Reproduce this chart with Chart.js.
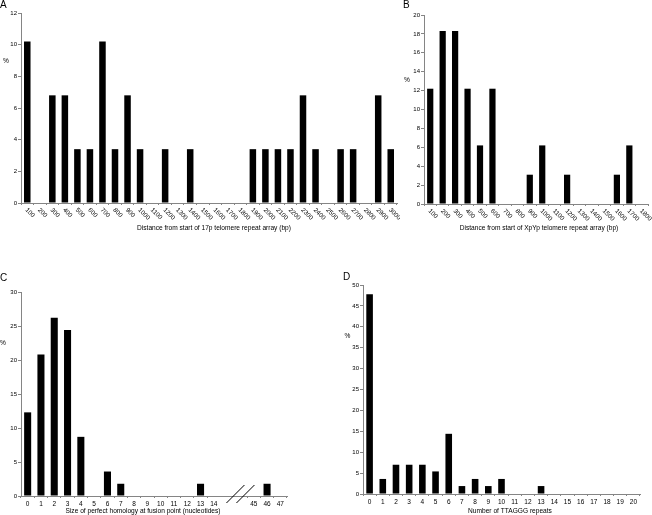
<!DOCTYPE html>
<html>
<head>
<meta charset="utf-8">
<script src="https://cdn.jsdelivr.net/npm/chart.js@4"></script>
<style>
  html, body { margin: 0; padding: 0; background: #fff; }
  #wrap { position: relative; width: 652px; height: 515px; overflow: hidden; background: #fff; }
  canvas { position: absolute; }
</style>
</head>
<body>
<div id="wrap">
  <canvas id="chart-a" width="400" height="240" style="left:0;top:0"></canvas>
  <canvas id="chart-b" width="252" height="240" style="left:400px;top:0"></canvas>
  <canvas id="chart-c" width="330" height="255" style="left:0;top:260px"></canvas>
  <canvas id="chart-d" width="322" height="255" style="left:330px;top:260px"></canvas>
</div>
<script>
// A - distance from start of 17p array
const catsA = ["100", "200", "300", "400", "500", "600", "700", "800", "900", "1000",
  "1100", "1200", "1300", "1400", "1500", "1600", "1700", "1800", "1900", "2000",
  "2100", "2200", "2300", "2400", "2500", "2600", "2700", "2800", "2900", "3000"];
const valsA = [10.2, 0, 6.8, 6.8, 3.4, 3.4, 10.2, 3.4, 6.8, 3.4,
  0, 3.4, 0, 3.4, 0, 0, 0, 0, 3.4, 3.4,
  3.4, 3.4, 6.8, 3.4, 0, 3.4, 3.4, 0, 6.8, 3.4];

// B - distance from start of XpYp array
const catsB = ["100", "200", "300", "400", "500", "600", "700", "800", "900",
  "1000", "1100", "1200", "1300", "1400", "1500", "1600", "1700", "1800"];
const valsB = [12.2, 18.3, 18.3, 12.2, 6.2, 12.2, 0, 0, 3.1,
  6.2, 0, 3.1, 0, 0, 0, 3.1, 6.2, 0];

// C - perfect homology size (two empty slots stand for the axis break)
const catsC = ["0", "1", "2", "3", "4", "5", "6", "7", "8", "9", "10", "11", "12", "13", "14",
  "", "", "45", "46", "47"];
const valsC = [12.3, 20.8, 26.2, 24.4, 8.7, 0, 3.6, 1.8, 0, 0, 0, 0, 0, 1.8, 0,
  null, null, 0, 1.8, 0];

// D - number of TTAGGG repeats
const catsD = ["0", "1", "2", "3", "4", "5", "6", "7", "8", "9", "10",
  "11", "12", "13", "14", "15", "16", "17", "18", "19", "20"];
const valsD = [47.8, 3.6, 7.0, 7.0, 7.0, 5.4, 14.4, 1.9, 3.6, 1.9, 3.6,
  0, 0, 1.9, 0, 0, 0, 0, 0, 0, 0];

const yMax = { a: 12, b: 20, c: 30, d: 50 };
const yStep = { a: 2, b: 2, c: 5, d: 5 };

const AXIS = "#858585";
const FONT = '"Liberation Sans", Arial, sans-serif';

Chart.defaults.font.family = FONT;
Chart.defaults.font.size = 6;
Chart.defaults.color = "#000";

// letters, "%", x titles, slanted tick labels and the axis break
const panelText = {
  id: "panelText",
  afterDraw(chart, args, o) {
    const ctx = chart.ctx;
    const xs = chart.scales.x;
    ctx.save();
    ctx.fillStyle = "#000";

    ctx.font = `10px ${FONT}`;
    ctx.textAlign = "left";
    ctx.textBaseline = "alphabetic";
    ctx.fillText(o.letter, o.letterX, o.letterY);

    ctx.font = `6.6px ${FONT}`;
    ctx.textAlign = "center";
    ctx.textBaseline = "middle";
    ctx.fillText("%", o.pctX, o.pctY);
    ctx.fillText(o.title, o.titleX, o.titleY);

    if (o.slant) {
      ctx.font = `6.3px ${FONT}`;
      ctx.textAlign = "left";
      chart.data.labels.forEach((lab, i) => {
        const px = xs.getPixelForValue(i);
        ctx.save();
        ctx.translate(px - 1, xs.top + 6);
        ctx.rotate(Math.PI / 4);
        ctx.fillText(lab, 0, 0);
        ctx.restore();
      });
    }

    if (o.breakIndex != null) {
      const c = xs.getPixelForValue(o.breakIndex);
      const ay = xs.top;
      ctx.strokeStyle = "#000";
      ctx.lineWidth = 1;
      [-5, 5].forEach((dx) => {
        ctx.beginPath();
        ctx.moveTo(c + dx - 9, ay + 7);
        ctx.lineTo(c + dx + 9, ay - 11);
        ctx.stroke();
      });
    }
    ctx.restore();
  },
};

function buildChart(canvasId, labels, values, s) {
  return new Chart(document.getElementById(canvasId), {
    type: "bar",
    data: {
      labels,
      datasets: [
        {
          data: values,
          backgroundColor: "#000",
          borderWidth: 0,
          barPercentage: s.bar,
          categoryPercentage: 1,
        },
      ],
    },
    options: {
      responsive: false,
      animation: false,
      events: [],
      layout: { padding: s.pad },
      plugins: {
        legend: { display: false },
        tooltip: { enabled: false },
        panelText: s.text,
      },
      scales: {
        x: {
          grid: {
            drawOnChartArea: false,
            tickLength: 2,
            color: (ctx) => (s.hideTicks && s.hideTicks.includes(ctx.index) ? "rgba(0,0,0,0)" : AXIS),
          },
          border: { color: AXIS },
          ticks: { display: !s.text.slant, autoSkip: false, maxRotation: 0, padding: 2, font: { size: 6.5 } },
          afterFit: (sc) => { sc.height = s.xH; },
        },
        y: {
          min: 0,
          max: s.yMax,
          grid: { drawOnChartArea: false, tickLength: 3, color: AXIS },
          border: { color: AXIS },
          ticks: { stepSize: s.yStep, padding: 1, font: { size: 6 } },
          afterFit: (sc) => { sc.width = s.yW; },
        },
      },
    },
    plugins: [panelText],
  });
}

buildChart("chart-a", catsA, valsA, {
  bar: 0.52, yMax: yMax.a, yStep: yStep.a, yW: 21, xH: 37,
  pad: { left: 0, top: 13, right: 3, bottom: 0 },
  text: {
    letter: "A", letterX: 0, letterY: 7.5, pctX: 6, pctY: 61, slant: true,
    title: "Distance from start of 17p telomere repeat array (bp)", titleX: 214, titleY: 228,
  },
});

buildChart("chart-b", catsB, valsB, {
  bar: 0.5, yMax: yMax.b, yStep: yStep.b, yW: 20, xH: 36,
  pad: { left: 4, top: 15, right: 4, bottom: 0 },
  text: {
    letter: "B", letterX: 3, letterY: 7.5, pctX: 7, pctY: 80, slant: true,
    title: "Distance from start of XpYp telomere repeat array (bp)", titleX: 139, titleY: 228,
  },
});

buildChart("chart-c", catsC, valsC, {
  bar: 0.53, yMax: yMax.c, yStep: yStep.c, yW: 21, xH: 19,
  pad: { left: 0, top: 32, right: 43, bottom: 0 },
  hideTicks: [15, 16],
  text: {
    letter: "C", letterX: 0, letterY: 20.5, pctX: 3, pctY: 83, breakIndex: 16,
    title: "Size of perfect homology at fusion point (nucleotides)", titleX: 143, titleY: 251,
  },
});

buildChart("chart-d", catsD, valsD, {
  bar: 0.5, yMax: yMax.d, yStep: yStep.d, yW: 20, xH: 21,
  pad: { left: 13, top: 25, right: 12, bottom: 0 },
  text: {
    letter: "D", letterX: 13, letterY: 19.5, pctX: 17.5, pctY: 76,
    title: "Number of TTAGGG repeats", titleX: 180, titleY: 251,
  },
});
</script>
</body>
</html>
